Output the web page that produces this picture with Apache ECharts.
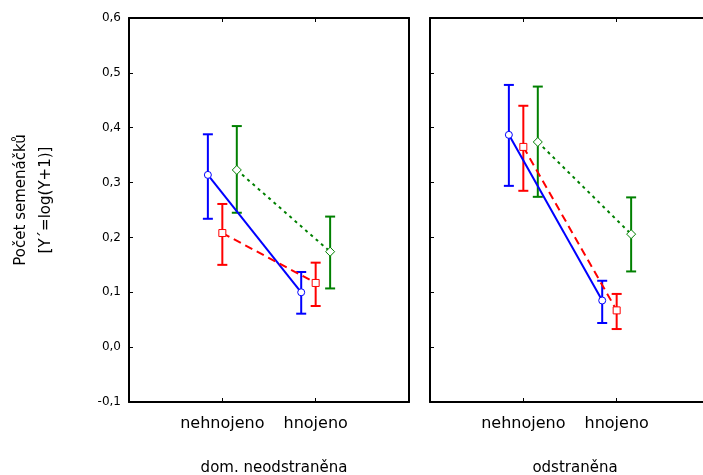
<!DOCTYPE html>
<html>
<head>
<meta charset="utf-8">
<script src="https://cdn.jsdelivr.net/npm/echarts@6/dist/echarts.min.js"></script>
<style>
	html, body { margin: 0; padding: 0; background: #fff; }
	#chart { width: 703px; height: 475px; }
</style>
</head>
<body>
<div id="chart"></div>
<script>
// kategorie na ose x a skupiny (panely)
var categories = ['nehnojeno', 'hnojeno'];
var panels = ['dom. neodstraněna', 'odstraněna'];
var yTicks = [-0.1, 0.6, 0.1]; // min, max, krok

// průměry a meze chybových úseček, [nehnojeno, hnojeno]
// panel 1: dom. neodstraněna
var blueMean1 = [0.314, 0.100];
var blueLow1 = [0.234, 0.061];
var blueHigh1 = [0.388, 0.137];
var redMean1 = [0.208, 0.117];
var redLow1 = [0.150, 0.075];
var redHigh1 = [0.261, 0.154];
var greenMean1 = [0.323, 0.174];
var greenLow1 = [0.245, 0.107];
var greenHigh1 = [0.403, 0.238];
// panel 2: odstraněna
var blueMean2 = [0.387, 0.085];
var blueLow2 = [0.294, 0.044];
var blueHigh2 = [0.478, 0.121];
var redMean2 = [0.365, 0.067];
var redLow2 = [0.285, 0.033];
var redHigh2 = [0.440, 0.097];
var greenMean2 = [0.374, 0.206];
var greenLow2 = [0.274, 0.138];
var greenHigh2 = [0.475, 0.273];

var font = 'DejaVu Sans';

var groups = [
	{ name: 'blue', color: '#0000ff', symbol: 'circle', size: 7, dash: 'solid', shift: -0.155,
		data: [[blueMean1, blueLow1, blueHigh1], [blueMean2, blueLow2, blueHigh2]] },
	{ name: 'red', color: '#ff0000', symbol: 'rect', size: 7, dash: [8, 5], shift: 0,
		data: [[redMean1, redLow1, redHigh1], [redMean2, redLow2, redHigh2]] },
	{ name: 'green', color: '#008000', symbol: 'diamond', size: 9, dash: [3, 4], shift: 0.155,
		data: [[greenMean1, greenLow1, greenHigh1], [greenMean2, greenLow2, greenHigh2]] }
];

function fmtY(v) {
	return v.toFixed(1).replace('.', ',');
}

function errorBar(params, api) {
	var x = api.value(0);
	var lo = api.coord([x, api.value(1)]);
	var hi = api.coord([x, api.value(2)]);
	var half = 5;
	var style = { stroke: api.visual('color'), lineWidth: 2, fill: null };
	return {
		type: 'group',
		children: [
			{ type: 'line', shape: { x1: lo[0], y1: lo[1], x2: hi[0], y2: hi[1] }, style: style },
			{ type: 'line', shape: { x1: lo[0] - half, y1: lo[1], x2: lo[0] + half, y2: lo[1] }, style: style },
			{ type: 'line', shape: { x1: hi[0] - half, y1: hi[1], x2: hi[0] + half, y2: hi[1] }, style: style }
		]
	};
}

var grids = [];
var xAxes = [];
var yAxes = [];
var series = [];
var titles = [];
var gridLeft = [129, 430];
var gridW = 280;

for (var p = 0; p < 2; p++) {
	grids.push({ left: gridLeft[p], top: 18, width: gridW, height: 384, show: false, outerBoundsMode: 'none' });

	var lineStyle = { color: '#000', width: 2 };
	// spodní osa s popisky
	xAxes.push({
		type: 'value', gridIndex: p, position: 'bottom', min: 0, max: 3, interval: 1,
		axisLine: { show: true, onZero: false, lineStyle: lineStyle },
		axisTick: { show: true, inside: true, length: 4, lineStyle: { color: '#000', width: 1 } },
		axisLabel: {
			margin: 14, color: '#000', fontFamily: font, fontSize: 16,
			formatter: function(v) { return categories[v - 1] || ''; }
		},
		splitLine: { show: false }
	});
	// horní okraj rámečku
	xAxes.push({
		type: 'value', gridIndex: p, position: 'top', min: 0, max: 3, interval: 1,
		axisLine: { show: true, onZero: false, lineStyle: lineStyle },
		axisTick: { show: true, inside: true, length: 4, lineStyle: { color: '#000', width: 1 } },
		axisLabel: { show: false },
		splitLine: { show: false }
	});
	yAxes.push({
		type: 'value', gridIndex: p, position: 'left', min: yTicks[0], max: yTicks[1], interval: yTicks[2],
		name: p === 0 ? 'Počet semenáčků\n[Y´=log(Y+1)]' : '',
		nameLocation: 'middle', nameRotate: 90, nameGap: 70,
		nameTextStyle: { color: '#000', fontFamily: font, fontSize: 15, lineHeight: 25, padding: [0, 0, 0, 20] },
		axisLine: { show: true, onZero: false, lineStyle: lineStyle },
		axisTick: { show: true, inside: true, length: 4, lineStyle: { color: '#000', width: 1 } },
		axisLabel: {
			show: p === 0, margin: 8, color: '#000', fontFamily: font, fontSize: 12,
			formatter: fmtY
		},
		splitLine: { show: false }
	});
	yAxes.push({
		type: 'value', gridIndex: p, position: 'right', min: yTicks[0], max: yTicks[1], interval: yTicks[2],
		axisLine: { show: true, onZero: false, lineStyle: lineStyle },
		axisTick: { show: false },
		axisLabel: { show: false },
		splitLine: { show: false }
	});

	titles.push({
		text: panels[p],
		left: gridLeft[p] + 140,
		top: 456,
		textAlign: 'center',
		textStyle: { color: '#000', fontFamily: font, fontSize: 15, fontWeight: 'normal' }
	});

	for (var g = 0; g < groups.length; g++) {
		var grp = groups[g];
		var mean = grp.data[p][0], low = grp.data[p][1], high = grp.data[p][2];
		var pts = [], bars = [];
		for (var c = 0; c < categories.length; c++) {
			var x = c + 1 + grp.shift;
			pts.push([x, mean[c]]);
			bars.push([x, low[c], high[c]]);
		}
		series.push({
			type: 'custom', xAxisIndex: p * 2, yAxisIndex: p * 2,
			renderItem: errorBar, data: bars, z: 2,
			itemStyle: { color: grp.color }
		});
		series.push({
			type: 'line', xAxisIndex: p * 2, yAxisIndex: p * 2,
			data: pts, z: 3,
			symbol: grp.symbol, symbolSize: grp.size, showSymbol: true,
			lineStyle: { color: grp.color, width: 2, type: grp.dash },
			itemStyle: { color: '#fff', borderColor: grp.color, borderWidth: 1 }
		});
	}
}

var myChart = echarts.init(document.getElementById('chart'));
myChart.setOption({
	animation: false,
	backgroundColor: '#fff',
	title: titles,
	grid: grids,
	xAxis: xAxes,
	yAxis: yAxes,
	series: series
});
</script>
</body>
</html>
